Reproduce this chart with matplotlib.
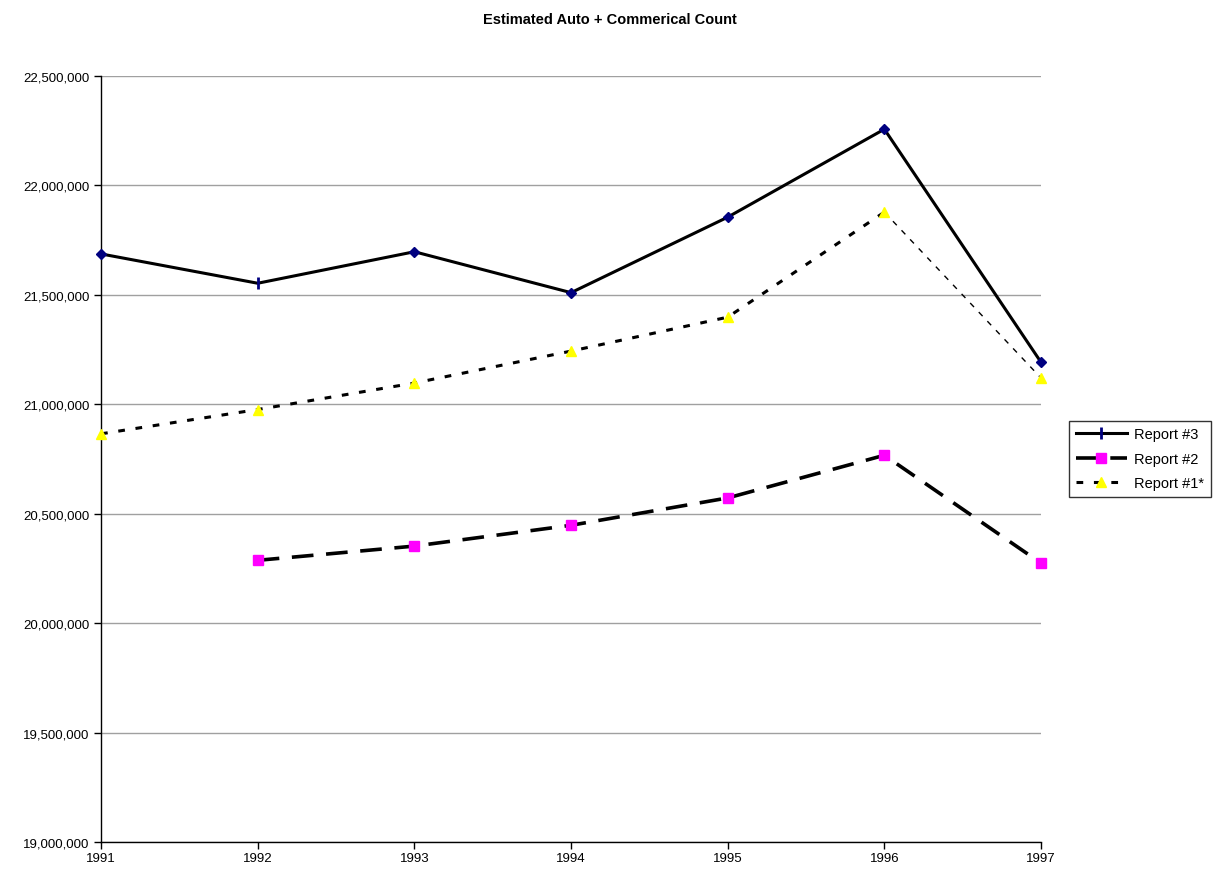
import matplotlib

matplotlib.use("Agg")
import matplotlib.pyplot as plt
from matplotlib.ticker import FuncFormatter

plt.rcParams["font.family"] = ["Liberation Sans", "DejaVu Sans"]

YEARS = [1991, 1992, 1993, 1994, 1995, 1996, 1997]
REPORT_3 = [21687000, 21553000, 21697000, 21510000, 21855000, 22257000, 21192000]
REPORT_2 = [None, 20287000, 20352000, 20447000, 20572000, 20767000, 20274000]
REPORT_1 = [20865000, 20976000, 21097000, 21243000, 21398000, 21878000, 21120000]

NAVY = "#000080"
MAGENTA = "#ff00ff"
YELLOW = "#ffff00"

fig = plt.figure(figsize=(12.19, 8.78), dpi=100)
ax = fig.add_axes([0.0829, 0.0399, 0.7711, 0.8724])

# Report #3: solid line, "|" marker on 1992, diamonds elsewhere
ax.plot(YEARS, REPORT_3, "-", color="black", lw=2.2, marker="|", ms=9,
        mec=NAVY, mew=2, markevery=[1], label="Report #3", zorder=3,
        clip_on=False)
ax.plot([y for i, y in enumerate(YEARS) if i != 1],
        [v for i, v in enumerate(REPORT_3) if i != 1],
        "D", color=NAVY, ms=5, ls="none", zorder=4, clip_on=False)

# Report #2: long dashes, magenta squares
yrs2 = [y for y, v in zip(YEARS, REPORT_2) if v is not None]
val2 = [v for v in REPORT_2 if v is not None]
ax.plot(yrs2, val2, color="black", lw=2.6, ls=(0, (6, 3.5)),
        marker="s", ms=7, mfc=MAGENTA, mec=MAGENTA, label="Report #2",
        zorder=3, clip_on=False)

# Report #1*: short dashes to 1996, thin dashes for the last step
ax.plot(YEARS[:6], REPORT_1[:6], color="black", lw=2.2, ls=(0, (2.2, 3.5)),
        marker="^", ms=7, mfc=YELLOW, mec=YELLOW, markevery=list(range(6)),
        label="Report #1*", zorder=3, clip_on=False)
ax.plot(YEARS[5:], REPORT_1[5:], color="black", lw=1.0, ls=(0, (4, 5)),
        zorder=2, clip_on=False)
ax.plot(YEARS[6:], REPORT_1[6:], "^", ms=7, color=YELLOW, zorder=4,
        clip_on=False)

ax.set_xlim(1991, 1997)
ax.set_ylim(19000000, 22500000)
ax.set_xticks(YEARS)
ax.set_yticks(range(19000000, 22500001, 500000))
ax.yaxis.set_major_formatter(FuncFormatter(lambda v, p: f"{int(v):,}"))
ax.grid(axis="y", color="#a0a0a0", lw=1.0)
ax.set_axisbelow(True)
for s in ("top", "right"):
    ax.spines[s].set_visible(False)
for s in ("left", "bottom"):
    ax.spines[s].set_color("black")
    ax.spines[s].set_linewidth(1.0)
ax.tick_params(axis="both", direction="out", length=5, width=1, labelsize=9.5,
               colors="black")
ax.tick_params(axis="x", pad=2)

fig.text(0.5, 0.977, "Estimated Auto + Commerical Count", ha="center",
         va="center", fontsize=10.5, fontweight="bold")

leg = ax.legend(loc="center left", bbox_to_anchor=(1.03, 0.5), frameon=True,
                fancybox=False, edgecolor="black", fontsize=10.5,
                handlelength=3.5, handletextpad=0.5, borderpad=0.45,
                labelspacing=0.72, borderaxespad=0)
leg.get_frame().set_linewidth(1.0)

fig.savefig("out.png", dpi=100)
